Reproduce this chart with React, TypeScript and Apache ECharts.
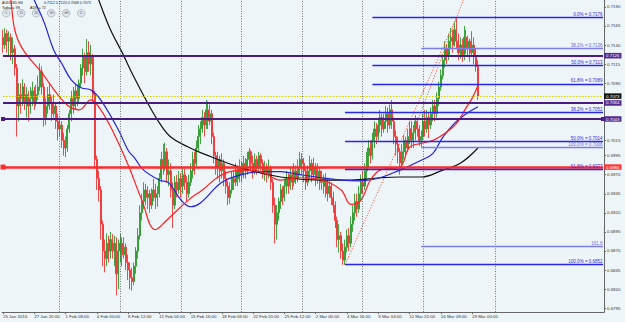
import React, { useEffect, useRef } from 'react';
import * as echarts from 'echarts';

// ---------- header texts ----------
const symbolName = 'AUDUSD,H4';
const headerQuote = '0.7112 0.7120 0.7068 0.7073';
const infoLeft = 'Today = 98';
const infoRight = 'ADR = 72';
const timeframeButtons = ['5', '15', '30', '1H', '4H', 'D'];

// ---------- H4 bars (price * 10000) ----------
const firstOpen = 7150;
const barClose = [
  7140, 7155, 7145, 7150, 7130, 7135, 7110, 7060, 7075, 7070, 7085, 7065, 7075, 7060, 7070, 7080,
  7065, 7075, 7085, 7105, 7085, 7045, 7060, 7075, 7065, 7050, 7060, 7040, 7030, 7035, 7015, 7005,
  7010, 7030, 7050, 7070, 7060, 7080, 7070, 7090, 7110, 7125, 7105, 7130, 7115, 7125, 7075, 6990,
  6965, 6950, 6905, 6870, 6860, 6880, 6870, 6885, 6870, 6880, 6840, 6870, 6880, 6865, 6875, 6855,
  6845, 6835, 6830, 6850, 6870, 6890, 6920, 6935, 6950, 6940, 6945, 6930, 6940, 6950, 6940, 6945,
  6965, 6990, 6980, 7000, 6970, 6975, 6950, 6930, 6960, 6950, 6965, 6955, 6970, 6960, 6945, 6960,
  6975, 6990, 6985, 7005, 7020, 7030, 7045, 7035, 7055, 7040, 7050, 7020, 6995, 6980, 6990, 6975,
  6985, 6965, 6955, 6940, 6950, 6965, 6960, 6975, 6965, 6980, 6970, 6985, 6975, 6990, 7000, 6985,
  6975, 6990, 6980, 6995, 6985, 6975, 6980, 6970, 6978, 6960, 6930, 6905, 6920, 6935, 6950, 6940,
  6955, 6965, 6955, 6970, 6960, 6975, 6965, 6980, 6990, 6985, 6975, 6960, 6975, 6985, 6970, 6980,
  6965, 6975, 6960, 6965, 6955, 6960, 6945, 6955, 6940, 6930, 6910, 6885, 6890, 6870, 6858, 6875,
  6890, 6880, 6905, 6920, 6935, 6925, 6945, 6960, 6955, 6975, 6990, 7005, 6995, 7015, 7030, 7020,
  7035, 7045, 7030, 7040, 7050, 7035, 7055, 7040, 7020, 7010, 7000, 6985, 7000, 7015, 7005, 7020,
  7030, 7015, 7025, 7040, 7030, 7015, 7020, 7040, 7030, 7045, 7035, 7050, 7060, 7050, 7070, 7085,
  7100, 7120, 7135, 7125, 7145, 7150, 7140, 7160, 7145, 7130, 7140, 7125, 7150, 7135, 7145, 7130,
  7140, 7125, 7112, 7073,
];
const barHigh = [
  7160, 7162, 7160, 7158, 7155, 7150, 7140, 7115, 7090, 7090, 7095, 7090, 7085, 7080, 7085, 7092,
  7085, 7088, 7100, 7116, 7112, 7090, 7070, 7085, 7090, 7072, 7075, 7065, 7050, 7045, 7040, 7025,
  7020, 7035, 7055, 7080, 7085, 7090, 7088, 7095, 7115, 7135, 7130, 7148, 7145, 7140, 7128, 7080,
  6995, 6975, 6955, 6910, 6885, 6893, 6890, 6895, 6892, 6890, 6888, 6885, 6893, 6888, 6888, 6880,
  6865, 6855, 6848, 6855, 6875, 6900, 6930, 6945, 6960, 6958, 6955, 6950, 6952, 6965, 6958, 6955,
  6972, 7000, 7010, 7012, 7005, 6990, 6985, 6960, 6968, 6970, 6975, 6972, 6980, 6978, 6968, 6970,
  6985, 7000, 7000, 7015, 7035, 7040, 7055, 7052, 7068, 7066, 7062, 7055, 7025, 7000, 7000, 6995,
  6998, 6990, 6975, 6962, 6960, 6975, 6975, 6985, 6982, 6990, 6988, 6995, 6992, 7000, 7005, 7002,
  6995, 6998, 6995, 7000, 6998, 6990, 6988, 6985, 6990, 6982, 6965, 6940, 6930, 6940, 6958, 6955,
  6965, 6975, 6972, 6980, 6978, 6985, 6982, 6990, 7000, 6998, 6992, 6980, 6982, 6995, 6990, 6992,
  6985, 6985, 6980, 6975, 6970, 6972, 6965, 6962, 6960, 6948, 6935, 6915, 6905, 6895, 6880, 6885,
  6898, 6900, 6915, 6930, 6945, 6945, 6955, 6970, 6975, 6985, 7000, 7015, 7015, 7025, 7040, 7038,
  7045, 7055, 7050, 7050, 7060, 7058, 7062, 7068, 7045, 7028, 7020, 7005, 7010, 7022, 7020, 7030,
  7040, 7040, 7035, 7048, 7045, 7035, 7028, 7050, 7055, 7055, 7052, 7058, 7068, 7068, 7078, 7092,
  7108, 7128, 7145, 7140, 7155, 7162, 7160, 7170, 7176, 7155, 7150, 7148, 7165, 7160, 7152, 7148,
  7158, 7150, 7135, 7120,
];
const barLow = [
  7130, 7135, 7130, 7125, 7120, 7115, 7100, 7020, 7040, 7050, 7060, 7055, 7045, 7040, 7050, 7060,
  7055, 7060, 7068, 7080, 7075, 7033, 7035, 7050, 7055, 7040, 7045, 7030, 7015, 7020, 7005, 6995,
  6993, 7000, 7025, 7040, 7050, 7055, 7060, 7065, 7085, 7100, 7090, 7100, 7105, 7100, 7065, 6978,
  6950, 6935, 6885, 6850, 6842, 6850, 6855, 6860, 6860, 6850, 6812, 6820, 6855, 6850, 6860, 6845,
  6832, 6820, 6818, 6825, 6840, 6860, 6885, 6910, 6925, 6930, 6925, 6920, 6925, 6935, 6925, 6928,
  6940, 6960, 6970, 6975, 6960, 6955, 6940, 6900, 6925, 6940, 6945, 6940, 6945, 6950, 6935, 6940,
  6955, 6965, 6970, 6980, 7000, 7010, 7025, 7020, 7030, 7030, 7035, 7010, 6985, 6970, 6965, 6960,
  6965, 6955, 6945, 6930, 6932, 6945, 6950, 6955, 6955, 6960, 6960, 6965, 6965, 6970, 6980, 6975,
  6965, 6970, 6970, 6975, 6975, 6965, 6962, 6960, 6965, 6950, 6920, 6880, 6885, 6910, 6925, 6930,
  6935, 6945, 6945, 6950, 6950, 6955, 6958, 6960, 6970, 6970, 6960, 6950, 6955, 6965, 6960, 6965,
  6955, 6958, 6950, 6950, 6945, 6940, 6935, 6940, 6930, 6920, 6900, 6875, 6868, 6860, 6852, 6852,
  6868, 6870, 6875, 6895, 6910, 6915, 6920, 6935, 6945, 6950, 6965, 6980, 6985, 6990, 7005, 7010,
  7015, 7025, 7020, 7025, 7030, 7025, 7030, 7030, 7010, 6995, 6985, 6970, 6975, 6990, 6995, 7000,
  7010, 7005, 7005, 7015, 7020, 7008, 7006, 7015, 7020, 7025, 7018, 7030, 7040, 7040, 7045, 7060,
  7080, 7095, 7110, 7115, 7120, 7135, 7130, 7138, 7135, 7120, 7122, 7118, 7120, 7128, 7125, 7118,
  7125, 7115, 7105, 7068,
];

// ---------- moving averages: [bar index, price*10000] ----------
const redMA = [
  [2, 7225], [4, 7199], [6, 7160], [10, 7135], [20, 7103], [28, 7075], [34, 7059], [39, 7055],
  [45, 7068], [50, 7055], [56, 7028], [64, 6983], [71, 6937], [78, 6898], [84, 6911], [95, 6937],
  [102, 6950], [112, 6970], [122, 6976], [132, 6974], [142, 6963], [152, 6966], [163, 6963],
  [173, 6950], [178, 6931], [183, 6936], [188, 6963], [193, 6976], [203, 6980], [208, 7006],
  [214, 7011], [220, 7015], [226, 7024], [232, 7037], [237, 7058], [240, 7070], [243, 7087],
];
const blueMA = [
  [12, 7225], [16, 7199], [21, 7170], [26, 7133], [30, 7116], [35, 7094], [40, 7084], [45, 7081],
  [50, 7068], [59, 7029], [64, 7002], [67, 6993], [72, 6976], [80, 6963], [85, 6959], [91, 6937],
  [96, 6928], [101, 6933], [112, 6960], [122, 6970], [132, 6974], [142, 6974], [152, 6970],
  [163, 6966], [173, 6963], [183, 6962], [193, 6966], [203, 6976], [214, 6989], [220, 6998],
  [225, 7019], [233, 7042], [243, 7059],
];
const blackMA = [
  [44, 7235], [49, 7199], [55, 7160], [61, 7130], [67, 7098], [74, 7064], [80, 7038], [86, 7019],
  [95, 7006], [102, 6998], [122, 6979], [142, 6967], [163, 6963], [178, 6963], [193, 6966],
  [203, 6967], [214, 6967], [225, 6976], [234, 6985], [243, 7005],
];

// ---------- axes ----------
const totalSlots = 308;
const tickEvery = 16;
const tickLabels = [
  '25 Jan 2010', '27 Jan 20:00', '1 Feb 08:00', '4 Feb 00:00', '8 Feb 12:00', '11 Feb 04:00',
  '15 Feb 16:00', '18 Feb 08:00', '22 Feb 20:00', '25 Feb 12:00', '2 Mar 00:00', '4 Mar 16:00',
  '9 Mar 04:00', '11 Mar 20:00', '16 Mar 08:00', '19 Mar 00:00',
];
const weekStarts = [29, 60, 91, 122, 153, 184, 215, 252];
const priceLabels = [
  0.6795, 0.682, 0.6845, 0.687, 0.6895, 0.692, 0.6945, 0.697, 0.6995, 0.7015, 0.709, 0.7115,
  0.714, 0.7165, 0.719,
];
const priceMin = 0.679;
const priceMax = 0.7199;

// ---------- horizontal objects ----------
const purpleLevels = [0.7126, 0.7064, 0.7043];
const redLevel = 0.698;
const bidPrice = 0.7073;
const fibDarkNames = ['0.0% = 0.7176', '50.0% = 0.7113', '61.8% = 0.7089', '38.2% = 0.7052', '50.0% = 0.7014', '61.8% = 0.6977', '100.0% = 0.6852'];
const fibDarkPrices = [0.7176, 0.7113, 0.7089, 0.7052, 0.7014, 0.6977, 0.6852];
const fibDarkFrom = [189, 189, 189, 175, 175, 175, 175];
const fibLightNames = ['38.2% = 0.7136', '100.0% = 0.7006', '161.8'];
const fibLightPrices = [0.7136, 0.7006, 0.6876];
const fibLightFrom = [214, 214, 214];
const trendA = [[175, 6852], [232, 7176]];
const trendB = [[207, 7006], [238, 7216]];

const FONT = 'Liberation Sans, Arial, sans-serif';

export default function App() {
  const ref = useRef<HTMLDivElement>(null);
  useEffect(() => {
    document.body.style.margin = '0';
    const chart = echarts.init(ref.current as HTMLDivElement, null, { renderer: 'svg' });

    const candles = barClose.map((c, i) => {
      const o = i === 0 ? firstOpen : barClose[i - 1];
      const h = Math.max(barHigh[i], o, c);
      const l = Math.min(barLow[i], o, c);
      return [o / 1e4, c / 1e4, l / 1e4, h / 1e4];
    });
    const cats = Array.from({ length: totalSlots }, (_, i) => String(i));
    const isLabel = (i: number) => i % tickEvery === 0 && i / tickEvery < tickLabels.length;
    const toP = (arr: number[][]) => arr.map(([x, v]) => [x, v / 1e4]);
    const lastSlot = totalSlots - 1;

    const fibSeries = (names: string[], prices: number[], from: number[], color: string, lblColor: string) => ({
      type: 'line', data: [], silent: true, clip: false,
      markLine: {
        silent: true, animation: false, symbol: 'none',
        lineStyle: { color, width: 1.3, type: 'solid', opacity: 1 },
        label: { show: true, position: 'insideEndTop', color: lblColor, fontSize: 4.5, fontFamily: FONT, distance: 0.5 },
        data: names.map((n, k) => [
          { coord: [from[k], prices[k]], label: { formatter: n }, lineStyle: { color } },
          { coord: [lastSlot, prices[k]] },
        ]),
      },
    });

    const levelSeries = (levels: number[], color: string, width: number, type: any, bg: string, startSym: string[], endSym: string[], symSize: number) => ({
      type: 'line', data: [], silent: true, clip: false,
      markLine: {
        silent: true, animation: false, symbolSize: symSize,
        lineStyle: { color, width, type },
        itemStyle: { color },
        label: {
          show: true, position: 'end', distance: 1,
          backgroundColor: bg, color: '#ffffff', fontSize: 4.4, fontFamily: FONT,
          padding: [1, 2, 0.5, 2],
        },
        data: levels.map((p, k) => [
          { coord: [0, p], symbol: startSym[k], label: { formatter: p.toFixed(4) } },
          { coord: [lastSlot, p], symbol: endSym[k] },
        ]),
      },
    });

    const option: any = {
      animation: false,
      backgroundColor: '#eef5f9',
      grid: { left: 1, right: 21, top: 0, bottom: 10 },
      xAxis: {
        type: 'category', data: cats, boundaryGap: true,
        axisLine: { show: true, lineStyle: { color: '#666', width: 1 } },
        axisTick: { show: true, interval: (i: number) => isLabel(i), alignWithLabel: true, length: 2, lineStyle: { color: '#666' } },
        axisLabel: {
          interval: (i: number) => isLabel(i),
          formatter: (_v: string, i: number) => tickLabels[Math.round(i / tickEvery)] || '',
          align: 'left', fontSize: 4.4, color: '#333', margin: 2, fontFamily: FONT,
        },
        splitLine: { show: false },
      },
      yAxis: {
        type: 'value', position: 'right', min: priceMin, max: priceMax,
        axisLine: { show: true, lineStyle: { color: '#666', width: 1 } },
        axisTick: { show: true, length: 2, customValues: priceLabels, lineStyle: { color: '#666' } },
        axisLabel: {
          customValues: priceLabels, formatter: (v: number) => v.toFixed(4),
          fontSize: 4.4, color: '#333', margin: 3, fontFamily: FONT,
        },
        splitLine: { show: false },
      },
      series: [
        {
          type: 'line', data: [], silent: true, clip: true,
          markLine: {
            silent: true, symbol: 'none', animation: false,
            label: { show: false },
            lineStyle: { color: '#555', width: 0.8, type: [1, 1.5] },
            data: weekStarts.map((w) => [{ coord: [w, priceMin] }, { coord: [w, priceMax] }]),
          },
        },
        {
          type: 'candlestick', data: candles, barWidth: 1.5,
          itemStyle: {
            color: '#2e9c2e', color0: '#f03434', borderColor: '#2e9c2e', borderColor0: '#f03434', borderWidth: 0.9,
          },
        },
        levelSeries([bidPrice], '#d8d000', 1, [1.5, 1.5], '#111111', ['none'], ['none'], 4),
        levelSeries(purpleLevels, '#4a1c82', 2, 'solid', '#55288f', ['none', 'none', 'rect'], ['none', 'none', 'rect'], 4),
        levelSeries([redLevel], '#ff2a2a', 2.6, 'solid', '#ff3030', ['rect'], ['none'], 5),
        fibSeries(fibLightNames, fibLightPrices, fibLightFrom, '#7c7cec', '#6a6ae0'),
        fibSeries(fibDarkNames, fibDarkPrices, fibDarkFrom, '#2626ee', '#3030cc'),
        {
          type: 'line', data: toP(trendA), showSymbol: false, silent: true,
          lineStyle: { color: '#ff5a3c', width: 1, type: [1.2, 1.6] },
        },
        {
          type: 'line', data: toP(trendB), showSymbol: false, silent: true,
          lineStyle: { color: '#ff5a3c', width: 1, type: [1.2, 1.6] },
        },
        {
          type: 'line', data: toP(blackMA), smooth: 0.4, showSymbol: false, silent: true,
          lineStyle: { color: '#111111', width: 1.2 },
        },
        {
          type: 'line', data: toP(blueMA), smooth: 0.4, showSymbol: false, silent: true,
          lineStyle: { color: '#2222dd', width: 1.2 },
        },
        {
          type: 'line', data: toP(redMA), smooth: 0.4, showSymbol: false, silent: true,
          lineStyle: { color: '#ff2020', width: 1.2 },
        },
      ],
      graphic: [
        { type: 'text', left: 2, top: 1, z: 100, style: { text: symbolName, fontSize: 3.6, fill: '#222', fontFamily: FONT } },
        { type: 'text', left: 44, top: 1, z: 100, style: { text: headerQuote, fontSize: 3.6, fill: '#222', fontFamily: FONT } },
        { type: 'text', left: 2, top: 5.5, z: 100, style: { text: infoLeft, fontSize: 3.6, fill: '#222', fontFamily: FONT } },
        { type: 'text', left: 30, top: 5.5, z: 100, style: { text: infoRight, fontSize: 3.6, fill: '#222', fontFamily: FONT } },
        ...timeframeButtons.map((t, k) => ({
          type: 'group', left: 2 + k * 15, top: 9, z: 100,
          children: [
            { type: 'circle', shape: { cx: 4, cy: 4, r: 3.8 }, style: { fill: '#dfe5ea', stroke: '#a9b3bb', lineWidth: 0.8 } },
            { type: 'text', x: 4, y: 4, style: { text: t, fontSize: 3.2, fill: '#556', align: 'center', verticalAlign: 'middle', fontFamily: FONT } },
          ],
        })),
      ],
    };
    chart.setOption(option);
    return () => chart.dispose();
  }, []);
  return <div ref={ref} style={{ width: 625, height: 322 }} />;
}
